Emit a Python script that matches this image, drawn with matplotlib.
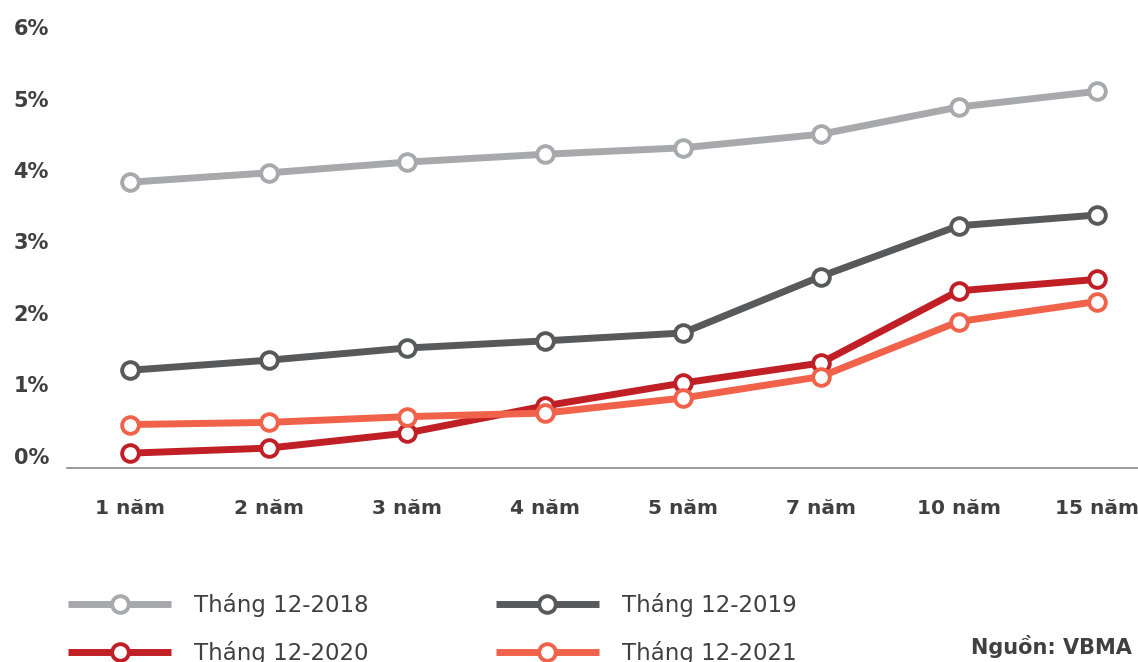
import matplotlib.pyplot as plt

categories = ["1 năm", "2 năm", "3 năm", "4 năm", "5 năm", "7 năm", "10 năm", "15 năm"]
y2018 = [3.83, 3.96, 4.11, 4.22, 4.31, 4.50, 4.88, 5.10]
y2019 = [1.20, 1.34, 1.51, 1.61, 1.72, 2.51, 3.22, 3.37]
y2020 = [0.04, 0.11, 0.32, 0.70, 1.02, 1.30, 2.31, 2.47]
y2021 = [0.44, 0.47, 0.55, 0.60, 0.81, 1.11, 1.88, 2.16]
labels = ["Tháng 12-2018", "Tháng 12-2019", "Tháng 12-2020", "Tháng 12-2021"]
colors = ["#a7a9ac", "#58595b", "#c01f26", "#f0624a"]
yticks = [0, 1, 2, 3, 4, 5, 6]

W, H = 1138, 662
fig = plt.figure(figsize=(W / 100, H / 100), dpi=100)
ax = fig.add_axes([67 / W, (H - 468) / H, 1 - 67 / W, 448 / H])

x = list(range(len(categories)))
lines = []
for ys, c, lab in zip([y2018, y2019, y2020, y2021], colors, labels):
    ln, = ax.plot(x, ys, color=c, lw=5, marker="o", ms=12, mfc="white",
                  mec=c, mew=2.8, label=lab, solid_capstyle="butt")
    lines.append(ln)

ax.set_xlim(-0.46, 7.3)
ax.set_ylim(-0.168, 6.098)
ax.set_xticks(x)
ax.set_xticklabels(categories, fontsize=14.5, fontweight="bold", color="#404040")
ax.set_yticks(yticks)
ax.set_yticklabels([f"{v}%" for v in yticks], fontsize=15, fontweight="bold",
                   color="#404040")
ax.tick_params(axis="x", length=0, pad=22)
ax.tick_params(axis="y", length=0, pad=13)
for s in ["top", "right", "left"]:
    ax.spines[s].set_visible(False)
ax.spines["bottom"].set_color("#8a8a8a")
ax.spines["bottom"].set_linewidth(1.2)

# legend order: 2018, 2019 on first row; 2020, 2021 on second
order = [0, 2, 1, 3]
fig.legend([lines[i] for i in order], [labels[i] for i in order], ncol=2,
           loc="upper left", bbox_to_anchor=(68 / W, 1 - 593 / H),
           frameon=False, fontsize=16.5, handlelength=4.5, handletextpad=1.0,
           columnspacing=5.55, labelspacing=1.05, borderpad=0, borderaxespad=0,
           labelcolor="#404040")

fig.text(1132 / W, 1 - 646 / H, "Nguồn: VBMA", ha="right", va="center",
         fontsize=15, fontweight="bold", color="#404040")

fig.savefig("out.png", dpi=100)
